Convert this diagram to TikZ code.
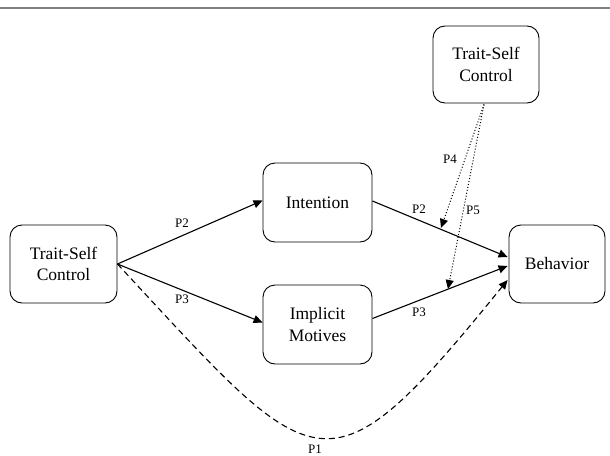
\documentclass[tikz,border=0pt]{standalone}
\usepackage{fontspec}
\setmainfont{Liberation Serif}
\usetikzlibrary{arrows.meta,calc}
\begin{document}
\begin{tikzpicture}[x=1pt,y=-1pt,
  box/.style={draw,rounded corners=12pt,line width=0.9pt,align=center,inner sep=0pt,
    font=\fontsize{17.5}{21.5}\selectfont},
  conn/.style={line width=1.1pt,-{Triangle[length=9pt,width=8pt]}},
  lbl/.style={font=\fontsize{13}{15}\selectfont,inner sep=0pt}]
\useasboundingbox (0,0) rectangle (610,455);
\draw[gray,line width=1.5pt] (0,8) -- (610,8);
\node[box,minimum width=107pt,minimum height=78pt] (L) at (63.5,264) {Trait-Self\\Control};
\node[box,minimum width=109pt,minimum height=79pt] (I) at (317.5,202.5) {Intention};
\node[box,minimum width=109pt,minimum height=79pt] (M) at (317.5,324.5) {Implicit\\Motives};
\node[box,minimum width=96pt,minimum height=78pt] (B) at (557,264) {Behavior};
\node[box,minimum width=106pt,minimum height=77pt] (T) at (486,64.5) {Trait-Self\\Control};
\coordinate (Bi) at ($(B.west)+(-1,-7)$);
\coordinate (Bm) at ($(B.west)+(-1,2)$);
\coordinate (Bd) at ($(B.west)+(-1,16)$);
\coordinate (Ts) at ($(T.south)+(-2,1)$);
\coordinate (P4e) at (441,228);
\coordinate (P5e) at (448,289);
\draw[conn] (L.east) -- ($(I.west)+(0,-2)$);
\draw[conn] (L.east) -- ($(M.west)+(0,-2)$);
\draw[conn] ($(I.east)+(0,-1.5)$) -- (Bi);
\draw[conn] ($(M.east)+(0,-6)$) -- (Bm);
\draw[conn,dashed,dash pattern=on 6pt off 4pt] (L.east) .. controls (318,480) and (325,505) .. (Bd);
\draw[line width=1pt,dotted,-{Triangle[length=9pt,width=8pt]}] (Ts) -- (P4e);
\draw[line width=1pt,dotted,-{Triangle[length=9pt,width=8pt]}] (Ts) -- (P5e);
\node[lbl] (l1) at (182,223) {P2};
\node[lbl] (l2) at (182,299) {P3};
\node[lbl] (l3) at (419,209) {P2};
\node[lbl] (l4) at (419,312) {P3};
\node[lbl] (l5) at (450,159) {P4};
\node[lbl] (l6) at (473,210) {P5};
\node[lbl] (l7) at (315,449) {P1};
\end{tikzpicture}
\end{document}
